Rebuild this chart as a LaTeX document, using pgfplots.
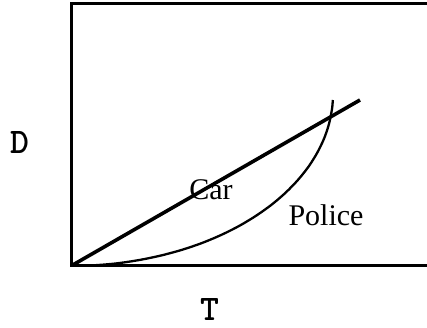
\documentclass[border=0pt]{standalone}
\usepackage{pgfplots}
\pgfplotsset{compat=1.18}
\usepackage{fontspec}
\setmainfont{Liberation Serif}
\begin{document}
\begin{tikzpicture}[x=1pt,y=1pt]
  \useasboundingbox (0,0) rectangle (427,328);
  \clip (0,0) rectangle (427,328);
  \begin{axis}[
    at={(71,62)}, anchor=south west,
    scale only axis, width=359pt, height=262pt,
    xmin=0, xmax=359, ymin=0, ymax=262,
    xtick=\empty, ytick=\empty,
    axis line style={line width=3pt},
  ]
    % car: constant speed
    \addplot[line width=3.6pt, black] coordinates {(0,0) (289,166)};
    % police: accelerating from rest
    \addplot[line width=2.3pt, black, smooth] coordinates {
      (0,0) (22.8,0.7) (45.5,2.6) (67.8,5.9) (89.6,10.4) (110.7,16.1)
      (131,23) (150.3,31.1) (168.4,40.2) (185.3,50.4) (200.7,61.4)
      (214.6,73.3) (226.9,86) (237.5,99.3) (246.2,113.2) (253.1,127.5)
      (258,142.1) (261,157) (261.8,166)};
    \node[font=\fontsize{30}{36}\selectfont] at (axis cs:140,76) {Car};
    \node[font=\fontsize{30}{36}\selectfont] at (axis cs:255,51) {Police};
  \end{axis}
  \node[font=\ttfamily\bfseries\fontsize{36}{42}\selectfont] at (20,185) {D};
  \node[font=\ttfamily\bfseries\fontsize{36}{42}\selectfont] at (210,18) {T};
\end{tikzpicture}
\end{document}
